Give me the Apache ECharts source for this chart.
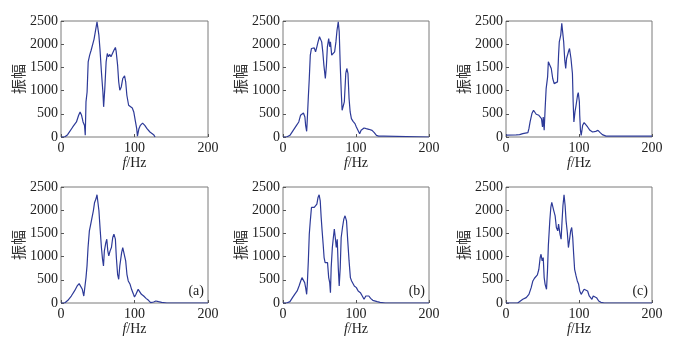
<!DOCTYPE html>
<html>
<head>
<meta charset="utf-8">
<script src="https://cdn.jsdelivr.net/npm/echarts@6/dist/echarts.min.js"></script>
<style>
  html, body { margin: 0; padding: 0; background: #fff; }
  #main { width: 682px; height: 346px; }
</style>
</head>
<body>
<div id="main"></div>
<script>
// frequency (Hz) / amplitude
var freq1 = [0, 5, 9, 16, 21, 24, 26, 28, 30, 32, 33, 34, 35.5, 37, 39, 41, 43.5, 45, 46.6, 49, 50, 51.5, 53, 55, 57, 58, 59.6, 61.4, 63, 64.6, 66.4, 68, 70, 72, 74, 75, 77, 78.5, 80, 82, 84, 86.5, 88, 89.6, 92, 94, 97, 99, 101, 103, 104, 106, 108, 111, 114, 117, 121, 126, 128];
var amp1 = [0, 0, 50, 216, 324, 468, 540, 468, 324, 250, 36, 756, 970, 1620, 1764, 1870, 1900, 2110, 2120, 2480, 2450, 2200, 1900, 1400, 970, 650, 1044, 1620, 1800, 1730, 1780, 1730, 1800, 1870, 1930, 1850, 1550, 1190, 1010, 1080, 1260, 1320, 1190, 900, 684, 650, 625, 540, 360, 180, 20, 180, 252, 300, 252, 180, 108, 50, 0];

var freq2 = [0, 5, 9.5, 14, 18.5, 21.6, 24, 25.7, 28, 30, 31, 32.4, 33, 34.7, 36, 37.4, 39, 41, 42.8, 44.6, 46.4, 48, 50, 51.8, 53, 54.5, 56, 58, 59.5, 60.8, 62.6, 64, 65, 66.7, 69, 70.7, 72.5, 74, 75.7, 77, 78.4, 80, 81, 82.4, 84, 86, 87.4, 89, 90.5, 92, 93.7, 96, 98.6, 100.5, 103, 105, 107, 111, 114, 117.6, 122, 125, 128, 131, 138, 140, 200];
var amp2 = [0, 0, 36, 144, 252, 324, 468, 504, 518, 432, 252, 122, 288, 864, 1260, 1764, 1908, 1944, 1920, 1836, 1944, 2050, 2160, 2180, 2050, 1836, 1550, 1260, 1550, 1944, 2120, 1944, 2050, 1764, 1730, 1836, 2050, 2300, 2480, 2270, 1550, 900, 576, 540, 756, 1370, 1476, 1370, 830, 540, 396, 338, 288, 216, 180, 72, 144, 194, 180, 166, 144, 94, 36, 20, 20, 0, 0];

var freq3 = [0, 14, 18.6, 23, 30, 31.4, 33, 35.5, 37.7, 39.5, 41.4, 43, 45, 46.8, 48.6, 50, 51, 52.3, 53.6, 55, 57, 58, 60, 62, 64, 66, 68.6, 70.5, 72, 73, 75, 76.4, 77.7, 79, 80.5, 81.8, 83, 85.5, 87, 89, 91, 92, 93, 94.5, 96, 98, 99, 100.5, 101, 102, 103, 105, 107, 109.5, 111.8, 115, 118.6, 123, 126, 129, 132, 137, 143.6, 200];
var amp3 = [40, 45, 50, 72, 94, 180, 324, 504, 576, 540, 490, 518, 468, 504, 396, 216, 432, 144, 612, 1044, 1296, 1620, 1584, 1476, 1260, 1150, 1116, 1188, 1764, 2052, 2196, 2448, 2480, 2052, 1656, 1476, 1692, 1836, 1908, 1692, 1368, 756, 324, 540, 684, 900, 958, 756, 468, 144, 36, 252, 310, 288, 216, 144, 108, 122, 144, 94, 50, 20, 20, 20];

var freq4 = [0, 5, 9.4, 14, 18.4, 22, 24.7, 27.4, 29, 31, 32.3, 34, 35.4, 36.8, 38.6, 40, 42, 44, 45.7, 47.5, 49, 50, 51.6, 53.4, 55, 56.5, 57.8, 59, 61, 62.3, 63.7, 65, 66.8, 68.6, 70.4, 72, 74, 75.3, 77, 78.5, 80, 82.5, 84, 86, 88, 89.7, 91.5, 94, 96, 98.6, 100, 102, 105, 107, 109.4, 112.5, 115.7, 119, 122, 126, 129, 132.7, 137, 144, 200];
var amp4 = [0, 0, 58, 150, 260, 367, 418, 403, 295, 150, 187, 547, 800, 1195, 1555, 1663, 1700, 1987, 2167, 2240, 2333, 2311, 1987, 1555, 1195, 943, 800, 1123, 1303, 1375, 1123, 1015, 1123, 1195, 1411, 1483, 1375, 979, 619, 511, 800, 1087, 1195, 1159, 907, 619, 475, 403, 295, 187, 130, 187, 295, 260, 187, 150, 100, 58, 7, 22, 43, 29, 14, 0, 0];

var freq5 = [0, 5, 9.5, 13, 16, 19.4, 22, 24.3, 26, 28, 29.7, 31, 32.4, 33.3, 34.7, 36, 37.4, 39, 41, 42.8, 44.6, 46.4, 48, 49.5, 51, 52.3, 53.6, 55, 56.3, 57.7, 59.5, 61, 62.6, 64, 65, 66, 67.6, 69, 70.3, 71.6, 73, 74.3, 75.7, 77, 78.4, 79.7, 81.5, 83.3, 85, 87, 88.7, 90.5, 92.3, 94, 96, 97.7, 100.5, 103, 106, 108.6, 111, 113.5, 115.8, 117.6, 120, 123, 125.7, 129, 133, 140, 200];
var amp5 = [0, 0, 29, 115, 187, 260, 367, 475, 547, 511, 439, 331, 187, 403, 907, 1483, 1771, 2059, 2095, 2059, 2095, 2131, 2275, 2333, 2203, 1843, 1555, 1267, 979, 871, 907, 871, 547, 439, 223, 763, 1195, 1411, 1591, 1411, 1195, 1375, 763, 367, 763, 1411, 1627, 1807, 1879, 1771, 1339, 907, 547, 475, 439, 367, 331, 259, 223, 151, 79, 151, 115, 151, 100, 58, 43, 29, 14, 0, 0];

var freq6 = [0, 16, 18.6, 23, 27.7, 31.4, 34.5, 36.8, 39, 41.4, 43, 45, 46.8, 48, 49.5, 51, 52.3, 53.6, 55.5, 56.8, 58, 60, 61.4, 62.7, 64, 65.5, 67.3, 69, 70.9, 72, 74, 75.5, 76.8, 78, 79.5, 81, 82.3, 84, 85.5, 86.8, 88.6, 90, 91.4, 92.7, 94, 96, 97.7, 99.5, 101, 103, 105, 107, 109.5, 111.8, 114, 116, 117.7, 119.5, 122, 124, 127, 130, 134.5, 200];
var amp6 = [0, 0, 29, 79, 115, 187, 331, 475, 533, 547, 605, 727, 979, 1051, 907, 979, 547, 403, 295, 691, 1231, 1771, 2059, 2167, 2131, 1987, 1879, 1627, 1555, 1699, 1483, 1375, 1771, 2095, 2333, 2095, 1771, 1519, 1195, 1339, 1555, 1627, 1411, 1051, 727, 583, 475, 403, 259, 187, 223, 295, 317, 259, 151, 187, 79, 151, 173, 115, 43, 14, 0, 0];

var xTicks = [0, 100, 200];
var yTicks = [0, 500, 1000, 1500, 2000, 2500];
var panelTags = ['', '', '', '(a)', '(b)', '(c)'];

var freqs = [freq1, freq2, freq3, freq4, freq5, freq6];
var amps = [amp1, amp2, amp3, amp4, amp5, amp6];

var chart = echarts.init(document.getElementById('main'));

var lefts = [61, 283, 506];
var widths = [147, 146, 146];
var tops = [21, 187];
var plotH = 116;

var grids = [], xAxes = [], yAxes = [], series = [], graphics = [];
var serif = '"Liberation Serif", "DejaVu Serif", serif';

for (var i = 0; i < 6; i++) {
  var col = i % 3, row = Math.floor(i / 3);
  grids.push({
    left: lefts[col], top: tops[row], width: widths[col], height: plotH,
    show: true, borderColor: '#7a7a7a', borderWidth: 1, backgroundColor: 'transparent'
  });
  xAxes.push({
    type: 'value', gridIndex: i, min: xTicks[0], max: xTicks[xTicks.length - 1], interval: 100,
    name: '{i|f}/Hz', nameLocation: 'middle', nameGap: 19,
    nameTextStyle: {
      fontFamily: serif, fontSize: 14, color: '#222',
      rich: { i: { fontFamily: serif, fontStyle: 'italic', fontSize: 14, color: '#222' } }
    },
    axisLine: { show: false },
    axisTick: { show: true, inside: true, length: 3, lineStyle: { color: '#555' } },
    splitLine: { show: false },
    axisLabel: { fontFamily: serif, fontSize: 14, color: '#222', margin: 4,
      formatter: function (v) { return String(v); } }
  });
  yAxes.push({
    type: 'value', gridIndex: i, min: yTicks[0], max: yTicks[yTicks.length - 1], interval: 500,
    name: '振幅', nameLocation: 'middle', nameGap: 32, nameRotate: 90,
    nameTextStyle: { fontFamily: '"Noto Sans CJK SC"', fontSize: 15, color: '#333' },
    axisLine: { show: false },
    axisTick: { show: true, inside: true, length: 3, lineStyle: { color: '#555' } },
    splitLine: { show: false },
    axisLabel: { fontFamily: serif, fontSize: 14, color: '#222', margin: 3,
      formatter: function (v) { return String(v); } }
  });
  var pts = freqs[i].map(function (f, k) { return [f, amps[i][k]]; });
  series.push({
    type: 'line', xAxisIndex: i, yAxisIndex: i, data: pts,
    showSymbol: false, symbol: 'none',
    lineStyle: { color: '#2d3a98', width: 1.2 },
    clip: true
  });
  if (panelTags[i]) {
    graphics.push({
      type: 'text', right: 682 - (lefts[col] + widths[col]) + 4, top: tops[row] + plotH - 19,
      style: { text: panelTags[i], font: '14px ' + serif, fill: '#222' }
    });
  }
}

chart.setOption({
  backgroundColor: '#ffffff',
  animation: false,
  grid: grids,
  xAxis: xAxes,
  yAxis: yAxes,
  series: series,
  graphic: graphics
});
</script>
</body>
</html>
